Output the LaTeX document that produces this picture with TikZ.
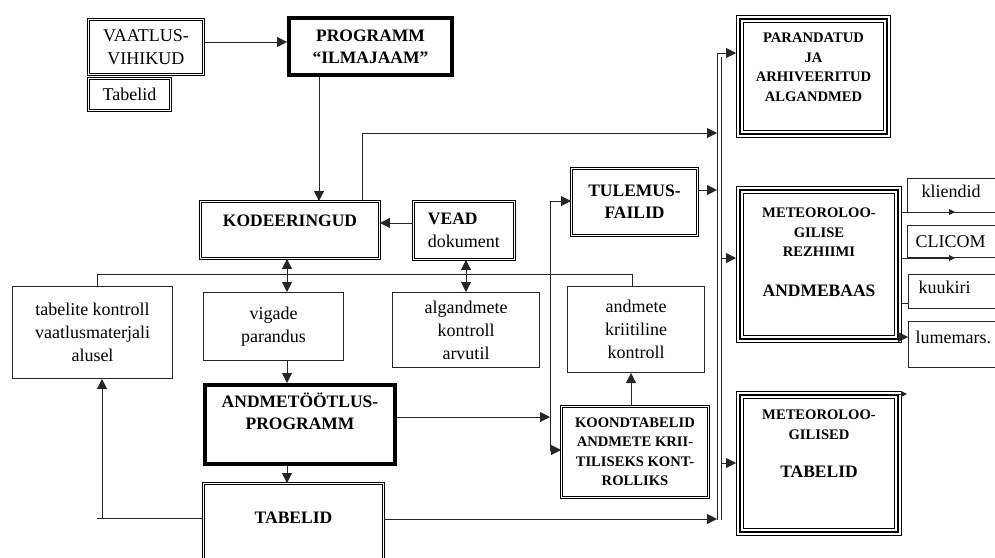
\documentclass[tikz,border=0pt]{standalone}
\usepackage{fontspec}
\setmainfont{Liberation Serif}
\usetikzlibrary{arrows.meta}

\newcommand\fnorm{\fontsize{18}{23}\selectfont}
\newcommand\fbig{\fontsize{17.5}{22}\selectfont\bfseries}
\newcommand\fsmall{\fontsize{14.6}{19.5}\selectfont\bfseries}

\tikzset{
  sbox/.style={draw=black!85, line width=1pt, anchor=north west, align=center, font=\fnorm},
  dbox/.style={sbox, draw=black, double, double distance=1.8pt, line width=0.95pt},
  thbox/.style={sbox, draw=black, line width=4pt},
  tbox/.style={sbox, draw=black, line width=1pt,
    path picture={
      \draw[line width=2pt] ([shift={(3.6pt,-3.6pt)}]path picture bounding box.north west) rectangle ([shift={(-3.6pt,3.6pt)}]path picture bounding box.south east);
      \draw[line width=1pt] ([shift={(7pt,-7pt)}]path picture bounding box.north west) rectangle ([shift={(-7pt,7pt)}]path picture bounding box.south east);
    }},
  lbl/.style={anchor=north, inner sep=0pt, align=center},
  outbox/.style={sbox, minimum width=100pt, align=left},
  conn/.style={draw=black!85, line width=1pt},
  >={Triangle[length=10pt,width=10pt]},
  sarr/.style={conn, -{Triangle[length=6pt,width=6pt]}},
}

\begin{document}
\begin{tikzpicture}[x=1pt, y=-1pt]
    \useasboundingbox (0,0) rectangle (995,557);

    % Input
    \node[dbox, minimum width=115pt, minimum height=55pt] (vaat) at (88,19) {VAATLUS-\\VIHIKUD};
    \node[dbox, minimum width=82pt, minimum height=32pt] (tabv) at (88,78) {Tabelid};
    \node[thbox, minimum width=163pt, minimum height=57pt, font=\fbig] (prog) at (287,16) {PROGRAMM\\“ILMAJAAM”};

    % Coding and errors
    \node[dbox, minimum width=179pt, minimum height=57pt,
      label={[lbl, yshift=-14pt, font=\fbig]north:KODEERINGUD}] (kod) at (200,201) {};
    \node[dbox, minimum width=101pt, minimum height=58pt, align=left] (vead) at (413,201) {{\fbig VEAD}\\dokument};
    \node[dbox, minimum width=126pt, minimum height=67pt, font=\fbig] (tul) at (571,168) {TULEMUS-\\FAILID};

    % Checks
    \node[sbox, minimum width=160pt, minimum height=92pt] (tk) at (12,286) {tabelite kontroll\\vaatlusmaterjali\\alusel};
    \node[sbox, minimum width=140pt, minimum height=68pt] (vig) at (203,292) {vigade\\parandus};
    \node[sbox, minimum width=147pt, minimum height=75pt] (alg) at (392,292) {algandmete\\kontroll\\arvutil};
    \node[sbox, minimum width=137pt, minimum height=86pt] (akk) at (567,286) {andmete\\kriitiline\\kontroll};

    % Processing
    \node[thbox, minimum width=190pt, minimum height=79pt,
      label={[lbl, yshift=-10pt, font=\fbig]north:{ANDMETÖÖTLUS-\\PROGRAMM}}] (atp) at (203,383) {};
    \node[dbox, minimum width=180pt, minimum height=120pt,
      label={[lbl, yshift=-29pt, font=\fbig]north:TABELID}] (tabm) at (203,483) {};
    \node[dbox, minimum width=147pt, minimum height=91pt, font=\fsmall] (koond) at (561,406) {KOONDTABELID\\ANDMETE KRII-\\TILISEKS KONT-\\ROLLIKS};

    % Results
    \node[tbox, minimum width=154pt, minimum height=122pt,
      label={[lbl, yshift=-18pt, font=\fsmall]north:{PARANDATUD\\JA\\ARHIVEERITUD\\ALGANDMED}}] (par) at (736,15) {};
    \node[tbox, minimum width=165pt, minimum height=156pt,
      label={[lbl, yshift=-22pt, font=\fsmall]north:{METEOROLOO-\\GILISE\\REZHIIMI\\[20pt]{\fbig ANDMEBAAS}}}] (rez) at (736,186) {};
    \node[tbox, minimum width=165pt, minimum height=144pt,
      label={[lbl, yshift=-19pt, font=\fsmall]north:{METEOROLOO-\\GILISED\\[19pt]{\fbig TABELID}}}] (mtab) at (736,391) {};

    % Users of the database
    \node[outbox, minimum height=34pt, text width=72pt, text depth=8pt] (kli) at (907,178) {kliendid};
    \node[outbox, minimum height=32pt, text width=84pt] (cli) at (907,225) {CLICOM};
    \node[outbox, minimum height=34pt, text width=80pt, text depth=8pt] (kuu) at (908,274) {kuukiri};
    \node[outbox, minimum height=46pt, text width=86pt, text depth=14pt] (lum) at (908,321) {lumemars.};

    % Helper points
    \coordinate (e0) at (0,42);
    \coordinate (e1) at (0,223);
    \coordinate (xp) at (319,0);
    \coordinate (xa) at (287,0);
    \coordinate (xv) at (466,0);
    \coordinate (xk) at (631,0);
    \coordinate (kx) at (362,0);
    \coordinate (h1) at (97,274);
    \coordinate (h2) at (632,274);
    \coordinate (v1) at (550,201);
    \coordinate (v2) at (550,450);
    \coordinate (v3) at (550,417);
    \coordinate (t1) at (97,518);
    \coordinate (t2) at (102,518);
    \coordinate (busT) at (717,53);
    \coordinate (busB) at (717,520);
    \coordinate (busT2) at (721,57);
    \coordinate (busB2) at (721,520);
    \coordinate (b1) at (717,133);
    \coordinate (b2) at (717,190);
    \coordinate (b3) at (717,519);
    \coordinate (b4) at (721,258);
    \coordinate (b5) at (721,463);
    \coordinate (r1) at (955,212);
    \coordinate (r2) at (955,258);
    \coordinate (r3) at (0,303);
    \coordinate (r4) at (0,337);
    \coordinate (r5) at (907,394);
    \coordinate (r6) at (888,394);

    % Upper flow
    \draw[conn, ->] (e0 -| vaat.east) -- (e0 -| prog.west);
    \draw[conn, ->] (prog.south -| xp) -- (kod.north -| xp);
    \draw[conn, ->] (kod.north -| kx) |- (b1);
    \draw[conn, ->] (e1 -| vead.west) -- (e1 -| kod.east);
    \draw[conn, <->] (kod.south -| xa) -- (vig.north -| xa);
    \draw[conn, <->] (vead.south -| xv) -- (alg.north -| xv);

    % Check line
    \draw[conn] (h1 |- tk.north) -- (h1) -- (h2) -- (h2 |- akk.north);

    % Processing flow
    \draw[conn, ->] (vig.south -| xa) -- (atp.north -| xa);
    \draw[conn, ->] (atp.south -| xa) -- (tabm.north -| xa);
    \draw[conn, ->] (v3 -| atp.east) -- (v3);
    \draw[conn] (v1) -- (v2);
    \draw[conn, ->] (v1) -- (v1 -| tul.west);
    \draw[conn, ->] (v2) -- (v2 -| koond.west);
    \draw[conn, ->] (koond.north -| xk) -- (akk.south -| xk);
    \draw[conn] (t1 -| tabm.west) -- (t1);
    \draw[conn, ->] (t2) -- (t2 |- tk.south);

    % Collector
    \draw[conn] (busT) -- (busB);
    \draw[conn] (busT2) -- (busB2);
    \draw[conn, ->] (b2 -| tul.east) -- (b2);
    \draw[conn, ->] (b3 -| tabm.east) -- (b3);
    \draw[conn, ->] (busT) -- (busT -| par.west);
    \draw[conn, ->] (b4) -- (b4 -| rez.west);
    \draw[conn, ->] (b5) -- (b5 -| mtab.west);

    % Database outputs
    \draw[sarr] (r1 -| rez.east) -- (r1);
    \draw[sarr] (r2 -| rez.east) -- (r2);
    \draw[conn] (r3 -| rez.east) -- (r3 -| kuu.west);
    \draw[conn, ->] (r4 -| rez.east) -- (r4 -| lum.west);
    \draw[sarr] (r6) -- (r5);

\end{tikzpicture}
\end{document}
